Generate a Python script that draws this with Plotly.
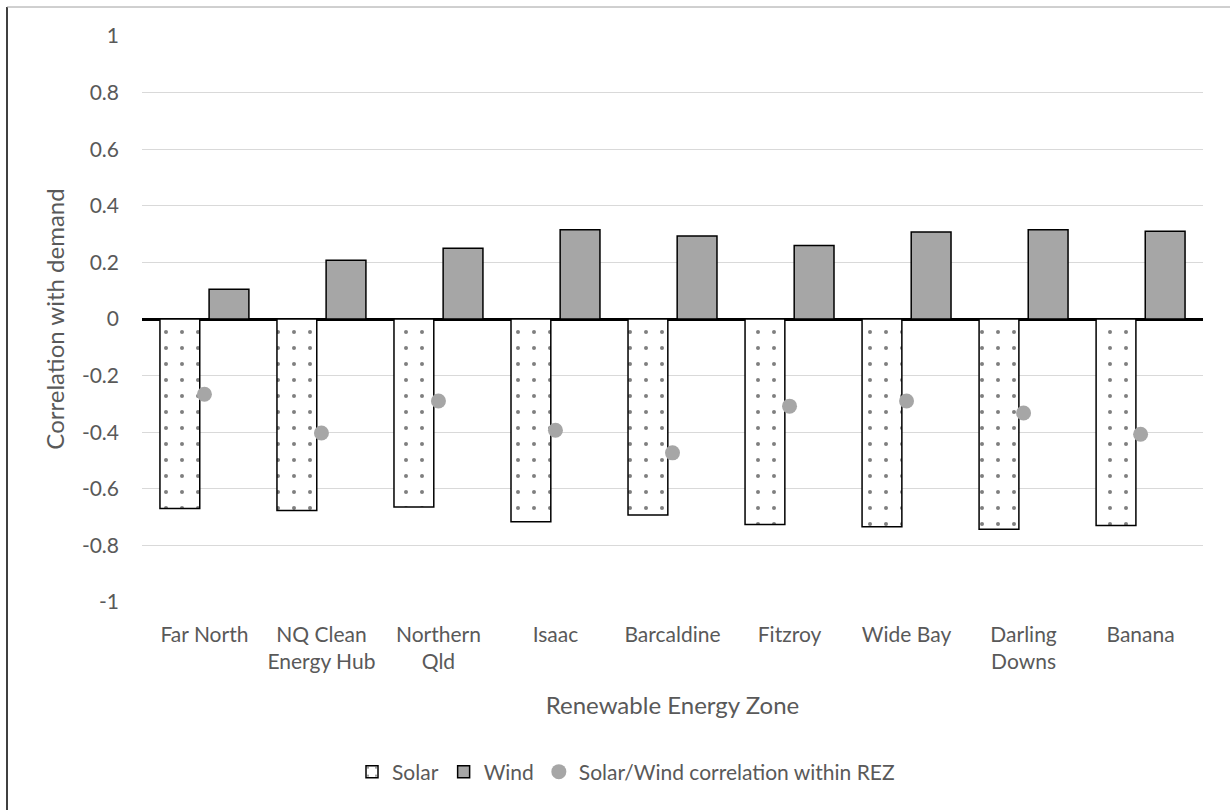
import plotly.graph_objects as go

zones = ["Far North", "NQ Clean<br>Energy Hub", "Northern<br>Qld", "Isaac", "Barcaldine",
         "Fitzroy", "Wide Bay", "Darling<br>Downs", "Banana"]
solar = [-0.67, -0.677, -0.664, -0.716, -0.693, -0.726, -0.734, -0.743, -0.730]
wind = [0.105, 0.208, 0.25, 0.315, 0.293, 0.26, 0.307, 0.315, 0.31]
solar_wind_corr = [-0.266, -0.403, -0.29, -0.393, -0.473, -0.308, -0.29, -0.332, -0.407]

y_tickvals = [1, 0.8, 0.6, 0.4, 0.2, 0, -0.2, -0.4, -0.6, -0.8, -1]
y_ticktext = ["1", "0.8", "0.6", "0.4", "0.2", "0", "-0.2", "-0.4", "-0.6", "-0.8", "-1"]

FONT = "Lato"
GREY_TXT = "#595959"

fig = go.Figure()
fig.add_trace(go.Bar(
    x=zones, y=solar, name="Solar",
    marker=dict(color="white", line=dict(color="black", width=1.5),
                pattern=dict(shape=".", fgcolor="black", bgcolor="white", size=16, solidity=0.05)),
))
fig.add_trace(go.Bar(
    x=zones, y=wind, name="Wind",
    marker=dict(color="#A6A6A6", line=dict(color="black", width=1.5)),
))
fig.add_trace(go.Scatter(
    x=zones, y=solar_wind_corr, name="Solar/Wind correlation within REZ",
    mode="markers", marker=dict(color="#A6A6A6", size=15, line=dict(width=0)),
))

W, H = 1230, 810
L, R, T, B = 142, 1203, 36, 602
pw, ph = R - L, B - T

def px(x):
    return (x - L) / pw

def py(y):
    return (B - y) / ph

fig.update_layout(
    width=W, height=H,
    margin=dict(l=L, r=W - R, t=T, b=H - B),
    paper_bgcolor="white", plot_bgcolor="white",
    font=dict(family=FONT, color=GREY_TXT, size=21),
    barmode="group", bargap=0.16, bargroupgap=0.19,
    showlegend=True,
    legend=dict(orientation="h", x=px(626), y=py(772), xanchor="center", yanchor="middle",
                font=dict(size=21, color=GREY_TXT), itemwidth=30, traceorder="normal"),
    xaxis=dict(
        title=dict(text="Renewable Energy Zone", font=dict(size=24, color=GREY_TXT), standoff=24),
        showgrid=False, showline=False, ticks="", tickfont=dict(size=21, color=GREY_TXT),
        ticklabelstandoff=18,
    ),
    yaxis=dict(
        title=dict(text="Correlation with demand", font=dict(size=24, color=GREY_TXT), standoff=10),
        range=[-1, 1], tickvals=y_tickvals, ticktext=y_ticktext,
        showgrid=True, gridcolor="#D9D9D9", gridwidth=1.3,
        zeroline=True, zerolinecolor="black", zerolinewidth=3,
        showline=False, ticks="", tickfont=dict(size=21, color=GREY_TXT),
        ticklabelstandoff=22,
    ),
    shapes=[
        dict(type="line", xref="paper", yref="paper", x0=px(7), x1=px(7), y0=py(7), y1=py(810),
             line=dict(color="#404040", width=2)),
        dict(type="line", xref="paper", yref="paper", x0=px(7), x1=px(1230), y0=py(7), y1=py(7),
             line=dict(color="#A0A0A0", width=1)),
    ],
)

fig.write_html("out.html", config={"displayModeBar": False},
               post_script="document.body.style.margin='0px';")
